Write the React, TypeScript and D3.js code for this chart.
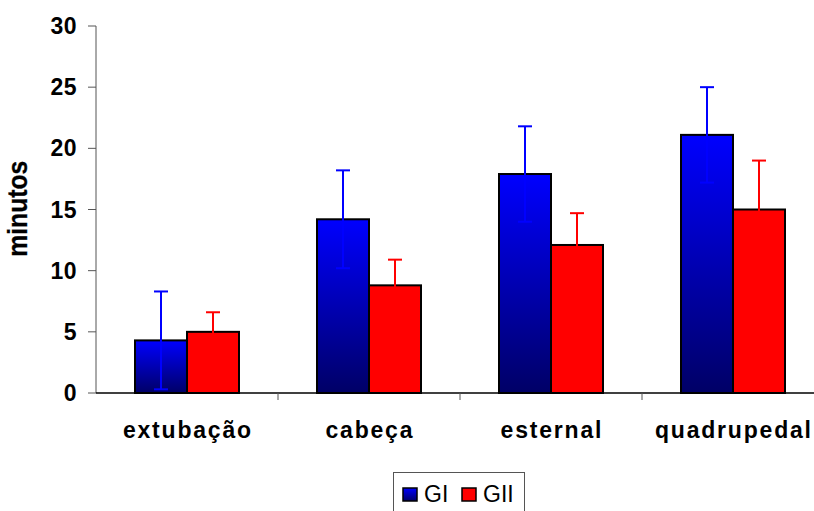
import React from 'react';
import * as d3 from 'd3';

const categories = ['extubação', 'cabeça', 'esternal', 'quadrupedal'];
const giValues = [4.3, 14.2, 17.9, 21.1];
const giErrors = [4.0, 4.0, 3.9, 3.9];
const giiValues = [5.0, 8.8, 12.1, 15.0];
const giiErrors = [1.6, 2.1, 2.6, 4.0];
const yTicks = [0, 5, 10, 15, 20, 25, 30];

const series = [
  { name: 'GI', values: giValues, errors: giErrors, fill: 'url(#blueGrad)', color: '#0000ff' },
  { name: 'GII', values: giiValues, errors: giiErrors, fill: '#ff0000', color: '#ff0000' },
];

const W = 814;
const H = 511;
const margin = { top: 26, left: 96, bottom: 118 };
const font = '"Liberation Sans", Arial, sans-serif';

export default function App() {
  const x = d3.scaleBand<string>().domain(categories).range([margin.left, margin.left + 182 * 4]).paddingInner(0).paddingOuter(0);
  const sub = d3.scaleBand<string>().domain(series.map(s => s.name)).range([0, x.bandwidth()]).paddingOuter(0.75);
  const y = d3.scaleLinear().domain([0, 30]).range([H - margin.bottom, margin.top]);
  const y0 = y(0);

  return (
    <svg width={W} height={H} style={{ position: 'absolute', left: 0, top: 0 }}>
      <defs>
        <linearGradient id="blueGrad" x1="0" y1="0" x2="0" y2="1">
          <stop offset="0%" stopColor="#0000ff" />
          <stop offset="100%" stopColor="#000066" />
        </linearGradient>
      </defs>
      <rect width={W} height={H} fill="#fff" />

      {/* y axis */}
      <line x1={margin.left} x2={margin.left} y1={y(30)} y2={y0} stroke="#555" strokeWidth={1} />
      {yTicks.map(t => (
        <g key={t}>
          <line x1={margin.left - 8} x2={margin.left} y1={y(t)} y2={y(t)} stroke="#555" />
          <text x={77} y={y(t) + 8} textAnchor="end" fontFamily={font} fontWeight="bold" fontSize={23} letterSpacing={0.5}>{t}</text>
        </g>
      ))}
      <text transform={`translate(27,${208.7}) rotate(-90)`} textAnchor="middle" fontFamily={font} fontWeight="bold" fontSize={28} textLength={96} lengthAdjust="spacingAndGlyphs" stroke="#000" strokeWidth={0.3}>minutos</text>

      {/* bars */}
      {categories.map((c, i) => (
        <g key={c}>
          {series.map(s => {
            const bx = x(c)! + sub(s.name)!;
            const v = s.values[i];
            return (
              <rect key={s.name} x={bx} y={y(v)} width={sub.bandwidth()} height={y0 - y(v)} fill={s.fill} stroke="#000" strokeWidth={2} />
            );
          })}
          {series.map(s => {
            const cx = x(c)! + sub(s.name)! + sub.bandwidth() / 2;
            const v = s.values[i];
            const e = s.errors[i];
            const lo = y(Math.max(0, v - e));
            return (
              <g key={s.name + 'e'} stroke={s.color} strokeWidth={2}>
                <line x1={cx} x2={cx} y1={y(v + e)} y2={lo} />
                <line x1={cx - 7} x2={cx + 7} y1={y(v + e)} y2={y(v + e)} />
                <line x1={cx - 7} x2={cx + 7} y1={lo} y2={lo} />
              </g>
            );
          })}
        </g>
      ))}

      {/* x axis */}
      <line x1={margin.left} x2={W} y1={y0} y2={y0} stroke="#000" strokeWidth={1.5} />
      {categories.slice(1).map(c => (
        <line key={c} x1={x(c)!} x2={x(c)!} y1={y0} y2={y0 + 7} stroke="#555" />
      ))}
      {categories.map(c => (
        <text key={c} x={x(c)! + x.bandwidth() / 2 + 0.9} y={438} textAnchor="middle" fontFamily={font} fontWeight="bold" fontSize={23} letterSpacing={1.8}>{c}</text>
      ))}

      {/* legend */}
      <rect x={393.5} y={472.5} width={131} height={45} fill="#fff" stroke="#555" />
      {series.map((s, i) => {
        const lx = i === 0 ? 403 : 462;
        return (
          <g key={s.name}>
            <rect x={lx} y={488} width={14} height={13} fill={s.fill} stroke="#000" strokeWidth={1.5} />
            <text x={lx + 21} y={502} fontFamily={font} fontSize={23}>{s.name}</text>
          </g>
        );
      })}
    </svg>
  );
}
